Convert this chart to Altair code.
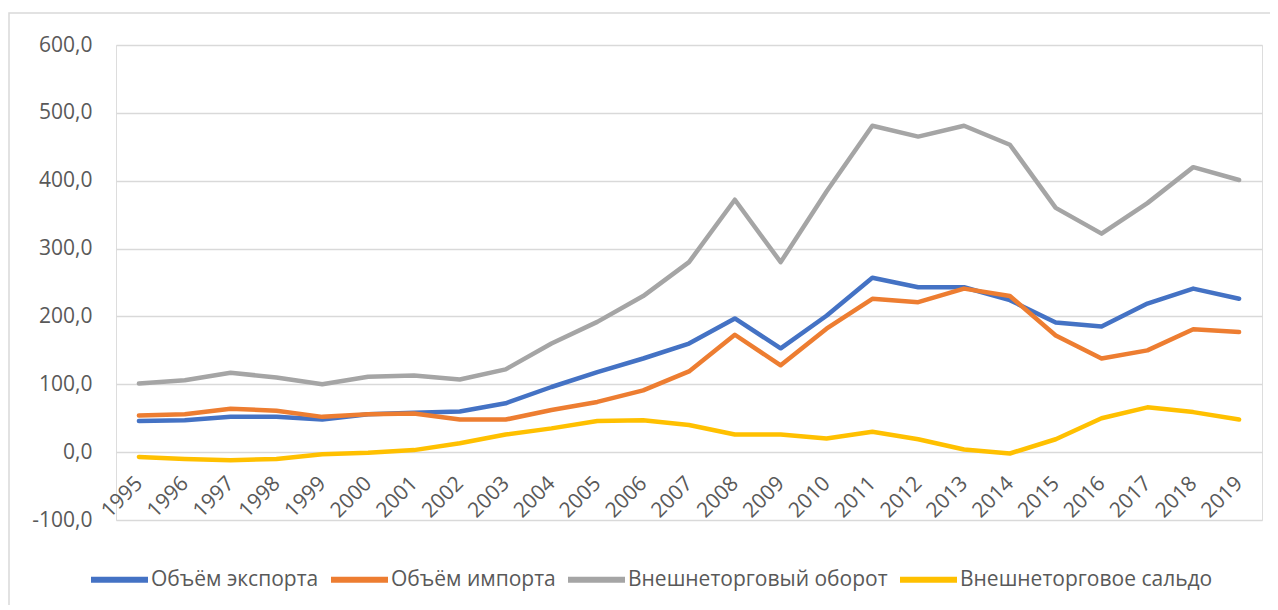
import altair as alt
import pandas as pd

years = [str(y) for y in range(1995, 2020)]

export_vals = [46, 47, 52, 52, 48, 56, 58, 60, 72, 96, 118, 138, 160, 197, 153,
               201, 257, 243, 243, 224, 191, 185, 219, 241, 226]
import_vals = [54, 56, 64, 61, 52, 56, 57, 48, 48, 62, 74, 91, 119, 173, 128,
               182, 226, 221, 241, 230, 172, 138, 150, 181, 177]
turnover_vals = [101, 106, 117, 110, 100, 111, 113, 107, 122, 160, 192, 230, 280, 372, 280,
                 384, 481, 465, 481, 453, 360, 322, 367, 420, 401]
balance_vals = [-7, -10, -12, -10, -3, -1, 3, 13, 26, 35, 46, 47, 40, 26, 26,
                20, 30, 19, 4, -2, 19, 50, 66, 59, 48]

series_names = ["Объём экспорта", "Объём импорта", "Внешнеторговый оборот", "Внешнеторговое сальдо"]
series_colors = ["#4472C4", "#ED7D31", "#A5A5A5", "#FFC000"]
y_ticks = [-100, 0, 100, 200, 300, 400, 500, 600]

rows = []
for name, vals in zip(series_names, [export_vals, import_vals, turnover_vals, balance_vals]):
    for yr, v in zip(years, vals):
        rows.append({"year": yr, "value": v, "series": name, "s_order": series_names.index(name)})
df = pd.DataFrame(rows)

FONT = "Open Sans"
TXT = "#595959"
GRID = "#D9D9D9"
FS = 21

W, H = 1146, 475

lines = alt.Chart(df).mark_line(strokeWidth=4.5, strokeCap="round", strokeJoin="round").encode(
    x=alt.X("year:O", sort=years,
            axis=alt.Axis(title=None, labelAngle=-45, labelAlign="right", labelBaseline="middle",
                          labelPadding=28, ticks=False, domain=False, grid=False, offset=-68,
                          labelFont=FONT, labelFontSize=FS, labelColor=TXT)),
    y=alt.Y("value:Q", scale=alt.Scale(domain=[-100, 600], nice=False, zero=False),
            axis=alt.Axis(title=None, values=y_ticks, ticks=False, domain=False,
                          labelExpr="replace(replace(format(datum.value, '.1f'), '.', ','), '\u2212', '-')",
                          labelPadding=24, gridColor=GRID, gridWidth=1.5,
                          labelFont=FONT, labelFontSize=FS, labelColor=TXT)),
    color=alt.Color("series:N", scale=alt.Scale(domain=series_names, range=series_colors),
                    legend=alt.Legend(title=None, orient="none", direction="horizontal",
                                      legendX=-28, legendY=503, symbolType="stroke",
                                      symbolSize=3249, symbolStrokeWidth=6,
                                      labelFont=FONT, labelFontSize=FS, labelColor=TXT,
                                      labelOffset=0, columnPadding=0, padding=0, labelLimit=0)),
    detail="s_order:O",
)

border = alt.Chart(pd.DataFrame({"a": [0]})).mark_rect(fill=None, stroke=GRID, strokeWidth=1.5).encode(
    x=alt.value(-107), x2=alt.value(W + 60), y=alt.value(-32), y2=alt.value(H + 120)
)

chart = alt.layer(border, lines).properties(
    width=W, height=H,
    autosize=alt.AutoSizeParams(type="none"),
    padding={"left": 108, "top": 37, "right": 8, "bottom": 85},
).configure_view(stroke=None).configure(background="white")

chart.save("out.html", embed_options={"renderer": "svg", "actions": False})
